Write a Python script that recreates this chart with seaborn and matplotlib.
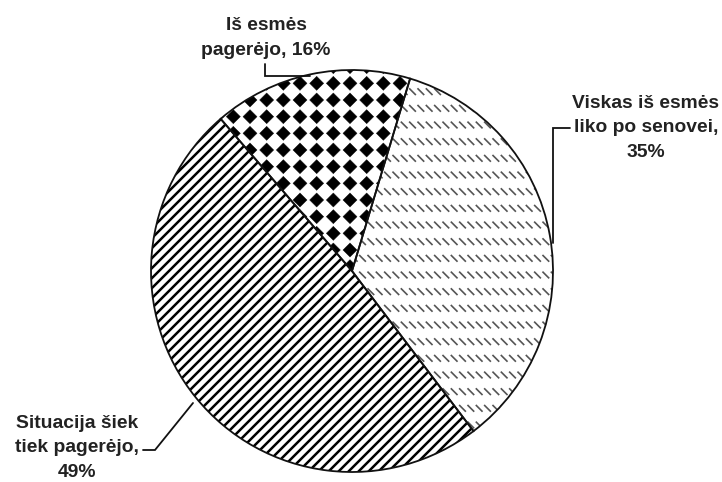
import warnings
import numpy as np
import matplotlib
matplotlib.use("Agg")
import matplotlib.pyplot as plt
import matplotlib.hatch as mhatch
from matplotlib.path import Path
from matplotlib.patches import Wedge
import seaborn as sns

warnings.filterwarnings("ignore")

# data
labels = ["Iš esmės\npagerėjo, 16%",
          "Viskas iš esmės\nliko po senovei,\n35%",
          "Situacija šiek\ntiek pagerėjo,\n49%"]
shares = [16, 35, 49]


# custom fill patterns (unit cell = 1 inch)
class DiamondGrid(mhatch.HatchPatternBase):
    # filled diamonds on a square grid, char 'd'
    def __init__(self, hatch, density):
        self.n = hatch.count('d') * density
        self.num_vertices = (self.n + 1) ** 2 * 5 if self.n else 0

    def set_vertices_and_codes(self, vertices, codes):
        h = 0.07
        shape = np.array([[h, 0], [0, h], [-h, 0], [0, -h], [h, 0]])
        pts = np.linspace(0, 1, self.n + 1)
        parts = [shape + [x, y] for y in pts for x in pts]
        vertices[:] = np.concatenate(parts)
        c = [Path.MOVETO, Path.LINETO, Path.LINETO, Path.LINETO, Path.CLOSEPOLY]
        codes[:] = np.tile(c, len(parts))


class DashRows(mhatch.HatchPatternBase):
    # rows of short back-slash dashes, char 'k'
    def __init__(self, hatch, density):
        self.rows = hatch.count('k') * density
        self.cols = self.rows * 2
        self.num_vertices = self.rows * self.cols * 2

    def set_vertices_and_codes(self, vertices, codes):
        a = 0.028
        ys = (np.arange(self.rows) + 0.5) / self.rows
        xs = (np.arange(self.cols) + 0.5) / self.cols
        gx, gy = np.meshgrid(xs, ys)
        gx, gy = gx.ravel(), gy.ravel()
        vertices[0::2, 0] = gx - a
        vertices[0::2, 1] = gy + a
        vertices[1::2, 0] = gx + a
        vertices[1::2, 1] = gy - a
        codes[0::2] = Path.MOVETO
        codes[1::2] = Path.LINETO


class Stripes(mhatch.HatchPatternBase):
    # forward diagonal stripes, 10 per inch, char 's'
    def __init__(self, hatch, density):
        self.n = hatch.count('s') * 10
        self.num_vertices = (2 * self.n + 1) * 2 if self.n else 0

    def set_vertices_and_codes(self, vertices, codes):
        k = np.arange(-self.n, self.n + 1) / self.n
        vertices[0::2, 0] = 0.0
        vertices[0::2, 1] = k
        vertices[1::2, 0] = 1.0
        vertices[1::2, 1] = k + 1.0
        codes[0::2] = Path.MOVETO
        codes[1::2] = Path.LINETO


mhatch._hatch_types.extend([DiamondGrid, DashRows, Stripes])

sns.set_style("white")
plt.rcParams['font.family'] = ['Liberation Sans', 'DejaVu Sans']

W, H = 722, 482
fig = plt.figure(figsize=(W / 100, H / 100), dpi=100)
ax = fig.add_axes([0, 0, 1, 1])

cx, cy, rad = 352, H - 271, 201

wedges, _ = ax.pie(shares, startangle=130.8, counterclock=False,
                   center=(cx, cy), radius=rad, frame=True)
ax.set_xlim(0, W)
ax.set_ylim(0, H)
ax.set_aspect('equal')
ax.axis('off')

styles = [('d', '#000000', 0.3),
          ('k', '#555555', 1.2),
          ('s', '#000000', 1.8)]
for w, (hatch, col, lw) in zip(wedges, styles):
    w.set_facecolor('white')
    w.set_edgecolor(col)
    w.set_linewidth(0)
    w.set_hatch(hatch)
    w.set_hatch_linewidth(lw)
    ax.add_patch(Wedge(w.center, w.r, w.theta1, w.theta2, fill=False,
                       edgecolor='#111111', linewidth=1.3))

# labels and leader lines
txt = dict(fontsize=13.9, fontweight='bold', color='#222222',
           ha='center', va='center', linespacing=1.55)
ax.text(266, H - 38, labels[0], **txt)
ax.text(646, H - 128, labels[1], **txt)
ax.text(77, H - 448, labels[2], **txt)

line = dict(color='#111111', linewidth=1.3, solid_joinstyle='miter')
ax.plot([265, 265, 310], [H - 64, H - 76, H - 76], **line)
ax.plot([570, 553, 553], [H - 128, H - 128, H - 243], **line)
ax.plot([143, 155, 193], [H - 450, H - 450, H - 403], **line)

fig.savefig("out.png", dpi=100)
